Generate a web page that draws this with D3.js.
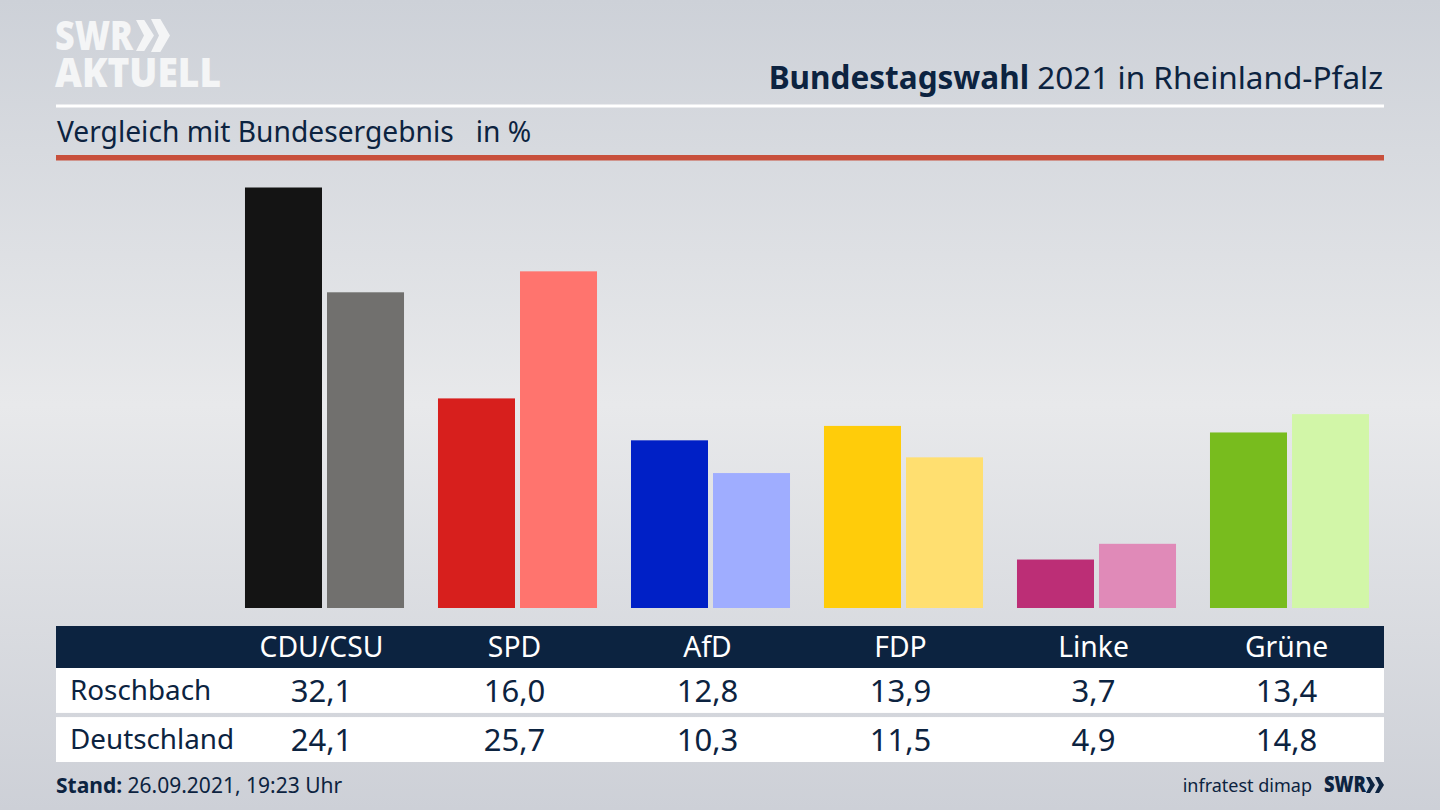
<!DOCTYPE html>
<html lang="de">
<head>
<meta charset="utf-8">
<title>Bundestagswahl 2021 in Rheinland-Pfalz</title>
<script src="https://cdn.jsdelivr.net/npm/d3@7"></script>
<style>
    html, body { margin: 0; padding: 0; background: #d5d8dd; }
    svg { display: block; }
    text { font-family: "Noto Sans", sans-serif; fill: #0c2340; }
</style>
</head>
<body>
<script>
const parties = ["CDU/CSU", "SPD", "AfD", "FDP", "Linke", "Grüne"];
const regions = ["Roschbach", "Deutschland"];
const roschbach = [32.1, 16.0, 12.8, 13.9, 3.7, 13.4];
const deutschland = [24.1, 25.7, 10.3, 11.5, 4.9, 14.8];
const colorsRegion = ["#141414", "#d71f1d", "#0020c6", "#ffcc0a", "#bc2e76", "#78bc1e"];
const colorsGermany = ["#71706e", "#ff746e", "#9fadff", "#ffdf70", "#e08ab8", "#d2f6a8"];

const width = 1440, height = 810;
const navy = "#0c2340";
const format = d3.format(".1f");
const de = v => format(v).replace(".", ",");

const svg = d3.select("body").append("svg")
    .attr("width", width)
    .attr("height", height);

// background
const grad = svg.append("defs").append("linearGradient")
    .attr("id", "bg")
    .attr("x1", 0).attr("y1", 0).attr("x2", 0).attr("y2", 1);
[[0, "#cdd1d8"], [0.5, "#e8e9eb"], [1, "#cdd0d7"]].forEach(s => {
    grad.append("stop").attr("offset", s[0]).attr("stop-color", s[1]);
});
svg.append("rect").attr("width", width).attr("height", height).attr("fill", "url(#bg)");

// scales
const x = d3.scaleBand().domain(parties).range([228, 1386]).paddingInner(0.176).paddingOuter(0.088);
const xSub = d3.scaleBand().domain([0, 1]).range([0, x.bandwidth()]).paddingInner(0.061);
const y = d3.scaleLinear().domain([0, 32.1]).range([608, 187.5]);

// bars
const groups = svg.selectAll("g.party")
    .data(parties)
    .enter()
    .append("g")
    .attr("class", "party")
    .attr("transform", d => `translate(${x(d)},0)`);

groups.selectAll("rect")
    .data((d, i) => [
        { k: 0, value: roschbach[i], color: colorsRegion[i] },
        { k: 1, value: deutschland[i], color: colorsGermany[i] }
    ])
    .enter()
    .append("rect")
    .attr("x", d => xSub(d.k))
    .attr("y", d => y(d.value))
    .attr("width", xSub.bandwidth())
    .attr("height", d => y(0) - y(d.value))
    .attr("fill", d => d.color);

// logo, one text element so the two lines stay together
const logo = svg.append("text")
    .style("font-family", "'Open Sans', sans-serif")
    .style("font-size", "41px").style("font-weight", 800).style("fill", "#f4f5f6");
logo.append("tspan").attr("x", 55).attr("y", 50)
    .attr("textLength", 78).attr("lengthAdjust", "spacingAndGlyphs")
    .text("SWR");
logo.append("tspan").attr("x", 55).attr("y", 87)
    .attr("textLength", 166).attr("lengthAdjust", "spacingAndGlyphs")
    .text("AKTUELL");
const chevron = d3.line();
[[136, 20, 18, 31, 15], [151, 19, 19, 33, 17]].forEach(c => {
    const [cx, cy, w, h, n] = c;
    svg.append("path")
        .attr("d", chevron([[cx, cy], [cx + n * 0.55, cy], [cx + w, cy + h / 2], [cx + n * 0.55, cy + h], [cx, cy + h], [cx + 8, cy + h / 2]]) + "Z")
        .attr("fill", "#f4f5f6");
});

// header
const title = svg.append("text").attr("x", 1383).attr("y", 89)
    .attr("text-anchor", "end")
    .style("font-size", "31.5px");
title.append("tspan").style("font-weight", 700).text("Bundestagswahl");
title.append("tspan").text(" 2021 in Rheinland-Pfalz");

svg.append("rect").attr("x", 56).attr("y", 104.5).attr("width", 1328).attr("height", 3).attr("fill", "#ffffff");

svg.append("text").attr("x", 57).attr("y", 142)
    .style("font-size", "28.2px")
    .attr("xml:space", "preserve")
    .text("Vergleich mit Bundesergebnis   in %");

svg.append("rect").attr("x", 56).attr("y", 155).attr("width", 1328).attr("height", 5.5).attr("fill", "#c8503c");

// table
svg.append("rect").attr("x", 56).attr("y", 626).attr("width", 1328).attr("height", 42).attr("fill", navy);
const rowY = d3.scaleBand().domain(regions).range([668, 762]).paddingInner(0.085);
const rowValues = [roschbach, deutschland];

svg.selectAll("rect.row")
    .data(regions)
    .enter()
    .append("rect")
    .attr("class", "row")
    .attr("x", 56)
    .attr("y", d => rowY(d))
    .attr("width", 1328)
    .attr("height", rowY.bandwidth())
    .attr("fill", "#ffffff");

const colX = d => x(d) + x.bandwidth() / 2 - 3;

svg.selectAll("text.head")
    .data(parties)
    .enter()
    .append("text")
    .attr("class", "head")
    .attr("x", colX)
    .attr("y", 657)
    .attr("text-anchor", "middle")
    .style("font-size", "28.3px")
    .style("fill", "#ffffff")
    .text(d => d);

regions.forEach((region, r) => {
    const base = rowY(region) + 32;
    svg.append("text").attr("x", 70).attr("y", base)
        .style("font-size", "27.8px")
        .text(region);
    svg.selectAll(`text.val${r}`)
        .data(rowValues[r])
        .enter()
        .append("text")
        .attr("class", `val${r}`)
        .attr("x", (d, i) => colX(parties[i]))
        .attr("y", base + 2)
        .attr("text-anchor", "middle")
        .style("font-size", "31px")
        .text(d => de(d));
});

// footer
const stand = svg.append("text").attr("x", 56).attr("y", 793).style("font-size", "21px");
stand.append("tspan").style("font-weight", 700).text("Stand:");
stand.append("tspan").text(" 26.09.2021, 19:23 Uhr");

svg.append("text").attr("x", 1312).attr("y", 792)
    .attr("text-anchor", "end")
    .style("font-size", "18px")
    .text("infratest dimap");
svg.append("text").attr("x", 1324).attr("y", 792)
    .style("font-family", "'Open Sans', sans-serif")
    .style("font-size", "22px").style("font-weight", 800)
    .attr("textLength", 42).attr("lengthAdjust", "spacingAndGlyphs")
    .text("SWR");
[[1366, 777, 9, 16, 8], [1375, 777, 9, 16, 8]].forEach(c => {
    const [cx, cy, w, h, n] = c;
    svg.append("path")
        .attr("d", chevron([[cx, cy], [cx + n * 0.5, cy], [cx + w, cy + h / 2], [cx + n * 0.5, cy + h], [cx, cy + h], [cx + 4, cy + h / 2]]) + "Z")
        .attr("fill", navy);
});
</script>
</body>
</html>
